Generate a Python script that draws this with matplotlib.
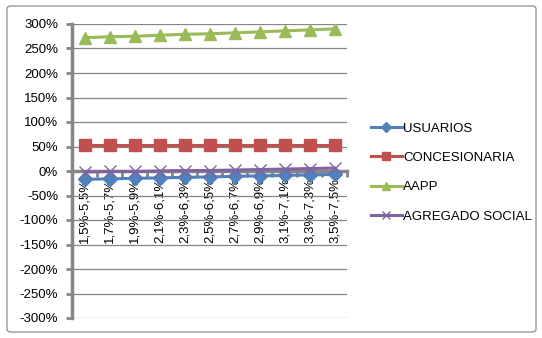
import numpy as np
import matplotlib.pyplot as plt
from matplotlib.patches import FancyBboxPatch
from matplotlib.ticker import FuncFormatter

plt.rcParams['font.family'] = ['Liberation Sans', 'DejaVu Sans']

categorias = ['1,5%-5,5%', '1,7%-5,7%', '1,9%-5,9%', '2,1%-6,1%', '2,3%-6,3%', '2,5%-6,5%',
              '2,7%-6,7%', '2,9%-6,9%', '3,1%-7,1%', '3,3%-7,3%', '3,5%-7,5%']
usuarios = [-17, -16, -15, -14, -13, -12, -11, -10, -9, -8, -7]
concesionaria = [53, 53, 53, 53, 53, 53, 53, 53, 53, 53, 53]
aapp = [272, 274, 275, 277, 279, 280, 282, 284, 286, 288, 290]
agregado = [-2, -1, -1, 0, 1, 1, 2, 3, 4, 5, 6]

series = [
    ('USUARIOS', usuarios, '#4F81BD', 'D', 7),
    ('CONCESIONARIA', concesionaria, '#C0504D', 's', 8),
    ('AAPP', aapp, '#9BBB59', '^', 9),
    ('AGREGADO SOCIAL', agregado, '#8064A2', 'x', 8),
]

fig = plt.figure(figsize=(5.42, 3.38), dpi=100)
fig.patches.append(FancyBboxPatch((7 / 542, 6 / 338), 529 / 542, 326 / 338,
                                  boxstyle='round,pad=0,rounding_size=0.008',
                                  transform=fig.transFigure, fill=False,
                                  edgecolor='#8C8C8C', linewidth=0.9))

ax = fig.add_axes([72 / 542, 20 / 338, 275 / 542, 294 / 338])
x = np.arange(len(categorias))
for nombre, vals, color, marker, ms in series:
    kw = dict(markeredgewidth=1.0) if marker == 'x' else dict(markeredgecolor=color)
    ax.plot(x, vals, color=color, linewidth=2.2, marker=marker, markersize=ms,
            label=nombre, zorder=3, **kw)

ax.set_xlim(-0.5, len(categorias) - 0.5)
ax.set_ylim(-300, 300)
ax.set_yticks(np.arange(-300, 301, 50))
ax.yaxis.set_major_formatter(FuncFormatter(lambda v, p: f'{int(v)}%'))
ax.grid(axis='y', color='#868686', linewidth=0.9)
ax.set_axisbelow(True)

for s in ['top', 'right']:
    ax.spines[s].set_visible(False)
ax.spines['left'].set_color('#868686')
ax.spines['left'].set_linewidth(2.5)
ax.spines['bottom'].set_position(('data', 0))
ax.spines['bottom'].set_color('#868686')
ax.spines['bottom'].set_linewidth(2.5)
ax.spines['bottom'].set_zorder(2)

ax.set_xticks(x)
ax.set_xticklabels(categorias, rotation=90, fontsize=9.5, va='top', ha='center')
ax.set_xticks(np.arange(-0.5, len(categorias), 1), minor=True)
ax.tick_params(axis='x', which='major', length=0, pad=5)
ax.tick_params(axis='x', which='minor', length=4, width=2, color='#868686')
ax.tick_params(axis='y', length=4, width=2, color='#868686', labelsize=9.5, pad=6)

fig.legend(loc='upper left', bbox_to_anchor=(366 / 542, 1 - 117 / 338),
           frameon=False, fontsize=9.5, handlelength=2.3, handletextpad=0.1,
           labelspacing=1.3, borderaxespad=0, markerscale=0.7)

plt.savefig('out.png', dpi=100)
